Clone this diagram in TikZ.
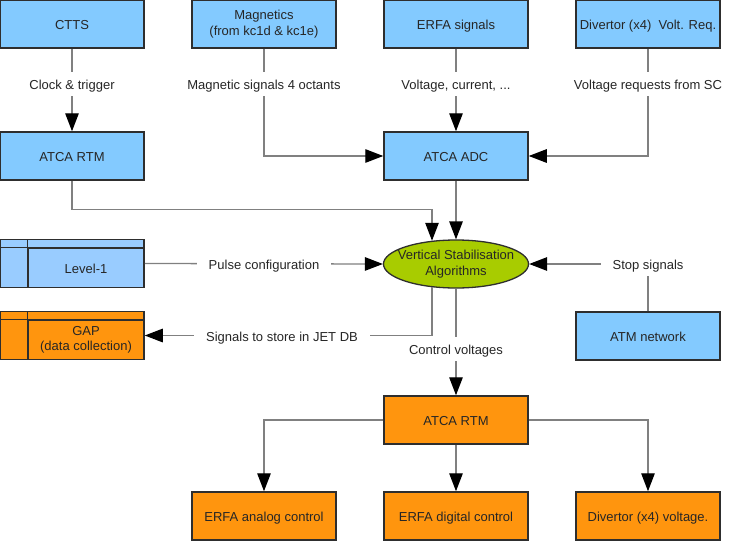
\documentclass[tikz,border=0pt]{standalone}
\usepackage{fontspec}
\setmainfont{Liberation Sans}
\usetikzlibrary{arrows.meta,shapes.geometric,calc}
\definecolor{bblue}{HTML}{83CAFF}
\definecolor{lblue}{HTML}{99CCFF}
\definecolor{borange}{HTML}{FF950E}
\definecolor{ygreen}{HTML}{A8CC00}
\definecolor{edgec}{HTML}{2E2E2E}
\definecolor{connc}{HTML}{808080}
\begin{document}
\begin{tikzpicture}[x=1pt,y=-1pt,
  font=\fontsize{13}{15.7}\selectfont,
  box/.style={draw=edgec, line width=1.5pt, minimum width=144pt, minimum height=48pt, inner sep=0pt, align=center, text=black!85},
  oneline/.style={text height=11.2pt, text depth=0pt},
  bluebox/.style={box, fill=bblue},
  orangebox/.style={box, fill=borange},
  connline/.style={draw=connc, line width=1.3pt},
  arr/.style={connline, -{Triangle[length=18pt,width=13.5pt,color=black]}},
  lbl/.style={fill=white, inner xsep=12pt, inner ysep=6pt, text=black!85, oneline},
]
\fill[white] (0,0) rectangle (745,541);
\useasboundingbox (0,0) rectangle (745,541);

% top row
\node[bluebox, oneline] (ctts) at (72,24) {CTTS};
\node[bluebox] (mag) at (264,24) {Magnetics\\(from kc1d \& kc1e)};
\node[bluebox, oneline] (erfa) at (456,24) {ERFA signals};
\node[bluebox, oneline] (divr) at (648,24) {Divertor (x4)\ \ Volt. Req.};

% second row
\node[bluebox, oneline] (rtmA) at (72,156) {ATCA RTM};
\node[bluebox, oneline] (adc) at (456,156) {ATCA ADC};

% central algorithm
\node[ellipse, draw=edgec, line width=1.3pt, fill=ygreen, minimum width=145pt, minimum height=48pt,
      inner xsep=-7.5pt, inner ysep=0pt, align=center, text=black!85] (vsa) at (456,264)
      {Vertical Stabilisation\\Algorithms};

% Level-1 store
\node[box, fill=lblue] (lvl) at (72,263.5) {};
\node[box, oneline, fill=lblue, minimum width=116pt, minimum height=39.5pt] (lvlt) at (86,267.75) {Level-1};
\draw[draw=edgec, line width=1.5pt] (lvl.west |- lvlt.north) -- (lvlt.north west) -- (lvlt.north west |- lvl.north);

% GAP store
\node[box, fill=borange] (gap) at (72,335.5) {};
\node[box, fill=borange, minimum width=116pt, minimum height=39.5pt] (gapt) at (86,339.75) {GAP\\(data collection)};
\draw[draw=edgec, line width=1.5pt] (gap.west |- gapt.north) -- (gapt.north west) -- (gapt.north west |- gap.north);

\node[bluebox, oneline] (atm) at (648,336) {ATM network};

% output side
\node[orangebox, oneline] (rtmB) at (456,420) {ATCA RTM};
\node[orangebox, oneline] (ana) at (264,516) {ERFA analog control};
\node[orangebox, oneline] (dig) at (456,516) {ERFA digital control};
\node[orangebox, oneline] (dvv) at (648,516) {Divertor (x4) voltage.};

% connectors
\draw[arr] (ctts) -- (rtmA);
\draw[arr] (mag.south) |- (adc.west);
\draw[arr] (erfa) -- (adc);
\draw[arr] (divr.south) |- (adc.east);
\draw[arr] (rtmA.south) -- ++(0,29) -| ([xshift=-24pt,yshift=-1.4pt]vsa.north);
\draw[arr] (adc) -- (vsa);
\draw[arr] (lvl.east) -- (vsa.west);
\draw[arr] (atm.north) |- (vsa.east);
\draw[arr] ([xshift=-24pt,yshift=1.4pt]vsa.south) |- (gap.east);
\draw[arr] (vsa.south) -- (rtmB.north);
\draw[arr] (rtmB.west) -| (ana.north);
\draw[arr] (rtmB) -- (dig);
\draw[arr] (rtmB.east) -| (dvv.north);

% labels
\node[lbl] (lclk) at (72,84) {Clock \& trigger};
\node[lbl] (lmag) at (264,84) {Magnetic signals 4 octants};
\node[lbl] (lvol) at (456,84) {Voltage, current, ...};
\node[lbl] (lreq) at (648,84) {Voltage requests from SC};
\node[lbl] (lpul) at (264,264) {Pulse configuration};
\node[lbl] (lstp) at (648,264) {Stop signals};
\node[lbl] (lsto) at (282,335.5) {Signals to store in JET DB};
\node[lbl] (lctl) at (456,349) {Control voltages};
\end{tikzpicture}
\end{document}
